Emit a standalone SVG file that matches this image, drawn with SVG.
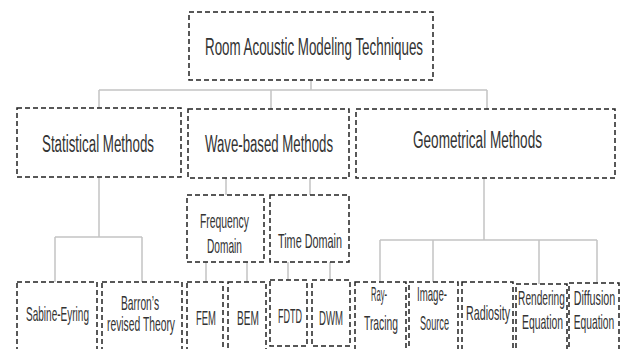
<svg xmlns="http://www.w3.org/2000/svg" width="621" height="349" viewBox="0 0 621 349">
<style>
.box{fill:#fff;stroke:#222;stroke-width:1.5;stroke-dasharray:5,3}
.t{font-family:"Liberation Sans",Arial,sans-serif;fill:#333;text-anchor:middle}
.b{font-size:23px}
.s{font-size:20px}
.c{fill:none;stroke:#c4c4c4;stroke-width:1.5}
</style>
<rect width="621" height="349" fill="#fff"/>
<g id="connectors" class="c">
<path d="M311 80V90M99 90H487M99 90V108M271 90V109M487 90V109"/>
<path d="M99 177V237M55 237H142M55 237V282M142 237V282"/>
<path d="M226 178V195M310 178V195"/>
<path d="M206 262V282M247 262V282M288 262V280M330 262V280"/>
<path d="M484 178V240M380 240H597M380 240V282M433 240V282M539 240V284M597 240V283"/>
</g>
<g id="root"><rect class="box" x="189" y="12" width="244" height="68"/><text class="t b" transform="translate(314 55) scale(0.58 1)" textLength="375.9" lengthAdjust="spacingAndGlyphs">Room Acoustic Modeling Techniques</text></g>
<g id="statistical"><rect class="box" x="17" y="108" width="164" height="69"/><text class="t b" transform="translate(98 152) scale(0.58 1)" textLength="193.1" lengthAdjust="spacingAndGlyphs">Statistical Methods</text></g>
<g id="wave"><rect class="box" x="188" y="109" width="161" height="69"/><text class="t b" transform="translate(269 152) scale(0.58 1)" textLength="220.7" lengthAdjust="spacingAndGlyphs">Wave-based Methods</text></g>
<g id="geometrical"><rect class="box" x="356" y="109" width="259" height="69"/><text class="t b" transform="translate(477.5 148) scale(0.58 1)" textLength="222.4" lengthAdjust="spacingAndGlyphs">Geometrical Methods</text></g>
<g id="frequency"><rect class="box" x="187" y="195" width="77" height="67"/><text class="t s" transform="translate(224.5 228) scale(0.52 1)" textLength="94.2" lengthAdjust="spacingAndGlyphs">Frequency</text><text class="t s" transform="translate(224.5 253) scale(0.52 1)" textLength="67.3" lengthAdjust="spacingAndGlyphs">Domain</text></g>
<g id="time"><rect class="box" x="270" y="195" width="79" height="67"/><text class="t s" transform="translate(310 248) scale(0.52 1)" textLength="123.1" lengthAdjust="spacingAndGlyphs">Time Domain</text></g>
<g id="sabine"><rect class="box" x="17" y="282" width="80" height="75"/><text class="t s" transform="translate(57.5 321) scale(0.52 1)" textLength="121.2" lengthAdjust="spacingAndGlyphs">Sabine-Eyring</text></g>
<g id="barron"><rect class="box" x="102" y="282" width="80" height="75"/><text class="t s" transform="translate(140 310) scale(0.52 1)" textLength="73.1" lengthAdjust="spacingAndGlyphs">Barron’s</text><text class="t s" transform="translate(141 331) scale(0.52 1)" textLength="130.8" lengthAdjust="spacingAndGlyphs">revised Theory</text></g>
<g id="fem"><rect class="box" x="187" y="282" width="36" height="75"/><text class="t s" transform="translate(206 325) scale(0.52 1)" textLength="38.5" lengthAdjust="spacingAndGlyphs">FEM</text></g>
<g id="bem"><rect class="box" x="228" y="282" width="38" height="75"/><text class="t s" transform="translate(248 325) scale(0.52 1)" textLength="42.3" lengthAdjust="spacingAndGlyphs">BEM</text></g>
<g id="fdtd"><rect class="box" x="270" y="280" width="37" height="66"/><text class="t s" transform="translate(290 323) scale(0.52 1)" textLength="46.2" lengthAdjust="spacingAndGlyphs">FDTD</text></g>
<g id="dwm"><rect class="box" x="312" y="280" width="38" height="66"/><text class="t s" transform="translate(331 325) scale(0.52 1)" textLength="46.2" lengthAdjust="spacingAndGlyphs">DWM</text></g>
<g id="raytracing"><rect class="box" x="355" y="282" width="51" height="75"/><text class="t s" transform="translate(379 301) scale(0.52 1)" textLength="30.8" lengthAdjust="spacingAndGlyphs">Ray-</text><text class="t s" transform="translate(381 330) scale(0.52 1)" textLength="65.4" lengthAdjust="spacingAndGlyphs">Tracing</text></g>
<g id="imagesource"><rect class="box" x="409" y="282" width="49" height="75"/><text class="t s" transform="translate(432 301) scale(0.52 1)" textLength="57.7" lengthAdjust="spacingAndGlyphs">Image-</text><text class="t s" transform="translate(434.5 330) scale(0.52 1)" textLength="55.8" lengthAdjust="spacingAndGlyphs">Source</text></g>
<g id="radiosity"><rect class="box" x="462" y="282" width="51" height="75"/><text class="t s" transform="translate(488 320) scale(0.52 1)" textLength="84.6" lengthAdjust="spacingAndGlyphs">Radiosity</text></g>
<g id="rendering"><rect class="box" x="516" y="284" width="51" height="73"/><text class="t s" transform="translate(541.5 305) scale(0.52 1)" textLength="90" lengthAdjust="spacingAndGlyphs">Rendering</text><text class="t s" transform="translate(542.5 329) scale(0.52 1)" textLength="78.8" lengthAdjust="spacingAndGlyphs">Equation</text></g>
<g id="diffusion"><rect class="box" x="569" y="283" width="50" height="74"/><text class="t s" transform="translate(594.5 305) scale(0.52 1)" textLength="80" lengthAdjust="spacingAndGlyphs">Diffusion</text><text class="t s" transform="translate(594 329) scale(0.52 1)" textLength="78" lengthAdjust="spacingAndGlyphs">Equation</text></g>
</svg>
